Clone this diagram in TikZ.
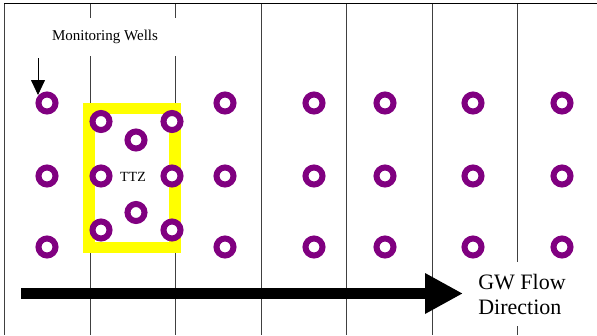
\documentclass[tikz,border=0pt]{standalone}
\usepackage{fontspec}
\setmainfont{Liberation Serif}
\usetikzlibrary{arrows.meta}
\definecolor{wellpurple}{HTML}{800080}
\definecolor{ttzyellow}{HTML}{FFFF00}
\tikzset{
  well/.style={circle, draw=wellpurple, fill=white, line width=6pt, minimum size=17pt, inner sep=0pt},
  gridline/.style={draw=black!75, line width=1pt},
  label15/.style={font=\fontsize{15}{17}\selectfont, inner sep=0pt},
  bigtext/.style={font=\fontsize{22}{25}\selectfont, align=left, fill=white, inner xsep=4pt, inner ysep=12pt},
}
\begin{document}
\begin{tikzpicture}[x=1pt,y=-1pt]
\useasboundingbox (0,0) rectangle (597,335);
% vertical grid lines
\foreach \gx in {4,90,175,261,346,432,517}{
  \draw[gridline] (\gx,3) -- (\gx,335);
}
% top line
\draw[black, line width=1pt] (4,3) -- (597,3);
% label box
\node[label15, fill=white, minimum width=150pt, minimum height=38pt] (mwlabel) at (105,37) {Monitoring Wells};
% TTZ yellow rectangle
\draw[ttzyellow, line width=11.5pt] (89,108.5) rectangle (175,247.5);
% wells
\foreach \wx/\wn in {47/a,225/d,314/e,385/f,473/g,562/h}{
  \node[well] (w\wn1) at (\wx,103) {};
  \node[well] (w\wn2) at (\wx,176) {};
  \node[well] (w\wn3) at (\wx,247) {};
}
\node[well] (t11) at (101,121.5) {};
\node[well] (t12) at (101,176) {};
\node[well] (t13) at (101,230) {};
\node[well] (t31) at (172,121.5) {};
\node[well] (t32) at (172,176) {};
\node[well] (t33) at (172,230) {};
\node[well] (t21) at (136,140) {};
\node[well] (t22) at (136,212.5) {};
\node[label15, font=\fontsize{14}{16}\selectfont] (ttz) at (133,177) {TTZ};
% monitoring wells arrow
\coordinate (mwstart) at (38,58);
\coordinate (mwend) at (38,95);
\draw[black, line width=0.8pt, -{Triangle[length=15pt,width=14pt]}] (mwstart) -- (mwend);
% flow arrow
\coordinate (flowstart) at (21,293.5);
\coordinate (flowend) at (463,293.5);
\draw[black, line width=11pt, -{Triangle[length=38pt,width=38pt]}] (flowstart) -- (flowend);
\node[bigtext] (flowlabel) at (522,294) {GW Flow\\Direction};
\end{tikzpicture}
\end{document}
